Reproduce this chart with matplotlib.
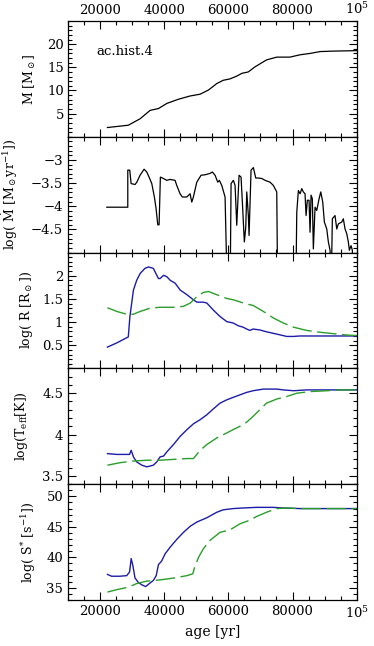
import matplotlib
matplotlib.use('Agg')
import matplotlib.pyplot as plt
from matplotlib.ticker import MultipleLocator, FixedLocator
import numpy as np

plt.rcParams['font.family'] = ['DejaVu Serif']
plt.rcParams['mathtext.fontset'] = 'dejavuserif'

# mass history
mass_age = [22300, 28800, 32500, 35600, 38200, 40800, 44400, 48000, 51200, 53800,
            56400, 58400, 60500, 62600, 64200, 66200, 68300, 71900, 75100, 79200,
            82300, 85500, 88600, 92700, 100000]
mass = [2.0, 2.5, 3.9, 5.7, 6.1, 7.2, 8.1, 8.8, 9.2, 10.1,
        11.5, 12.2, 12.5, 13.1, 13.7, 14.0, 15.1, 16.6, 17.2, 17.2,
        17.7, 18.0, 18.4, 18.5, 18.6]

# accretion rate; -6 = rate below the plotted range
mdot_age = [22090, 28640, 28640, 29260, 29670, 30920, 31450, 32470, 33720, 34560,
            35280, 36120, 36930, 37460, 37990, 38400, 38800, 39740, 40800, 41820,
            43380, 43910, 44940, 45660, 47030, 48060, 48590, 49090, 50150, 51490,
            52730, 54290, 55010, 55850, 56690, 57190, 57940, 58970, 59690, 60530,
            60840, 61560, 62090, 62610, 63330, 63950, 64360, 64980, 65420, 65730,
            66230, 66450, 67070, 67790, 68540, 69350, 70410, 71440, 73000, 74020,
            75080, 75390, 81000, 81320, 81820, 82350, 82880, 83370, 83900, 84220,
            84620, 85150, 85460, 85780, 86180, 86490, 87020, 87550, 88270, 88800,
            89420, 89920, 90670, 91170, 91700, 92010, 92410, 93250, 93790, 94280,
            95350, 95840, 96370, 96900, 97400, 97720, 98240, 98650, 98800]
log_mdot = [-4.02, -4.02, -3.22, -3.22, -3.51, -3.53, -3.48, -3.33, -3.20, -3.26,
            -3.37, -3.51, -3.80, -4.05, -4.40, -4.40, -3.37, -3.40, -3.44, -3.42,
            -3.44, -3.55, -3.73, -3.80, -3.80, -3.73, -3.91, -3.80, -3.48, -3.33,
            -3.32, -3.29, -3.26, -3.33, -3.48, -3.44, -3.55, -3.80, -6.0, -6.0,
            -3.51, -3.44, -3.55, -4.41, -3.33, -3.37, -3.91, -4.77, -4.45, -3.69,
            -4.20, -4.63, -3.22, -3.165, -3.39, -3.39, -3.40, -3.44, -3.48, -3.55,
            -3.69, -6.0, -6.0, -4.13, -3.66, -3.73, -3.62, -3.69, -3.73, -4.20,
            -3.87, -3.87, -4.56, -3.76, -3.84, -4.92, -4.02, -4.09, -3.84, -3.69,
            -3.91, -4.34, -4.49, -4.77, -4.95, -6.0, -4.27, -4.20, -4.49, -4.38,
            -4.34, -4.27, -4.49, -4.59, -4.77, -4.95, -4.85, -4.95, -6.0]

# radius
r_age_blue = [22300, 25200, 28800, 29300, 30400, 31400, 32500, 34000, 35100, 36600,
              38200, 38700, 39800, 40800, 41900, 43400, 45000, 47100, 49100, 50200,
              52200, 53300, 55300, 57400, 59500, 61500, 63100, 64600, 65700, 66700,
              67700, 69800, 71900, 75100, 78200, 80300, 82300, 92700, 100000]
log_r_blue = [0.46, 0.55, 0.68, 1.12, 1.69, 1.9, 2.05, 2.16, 2.19, 2.16,
              1.94, 1.94, 2.01, 1.98, 1.9, 1.84, 1.69, 1.59, 1.48, 1.43,
              1.43, 1.41, 1.26, 1.12, 1.01, 0.98, 0.92, 0.89, 0.85, 0.82,
              0.85, 0.83, 0.79, 0.74, 0.69, 0.69, 0.70, 0.70, 0.70]
r_age_green = [22300, 25200, 28800, 30400, 32500, 35600, 38700, 42900, 46000, 48100,
               50200, 52200, 53800, 56400, 59500, 61600, 65700, 67700, 70900, 74000,
               77100, 80300, 84400, 88600, 92700, 96900, 100000]
log_r_green = [1.31, 1.23, 1.16, 1.17, 1.23, 1.30, 1.32, 1.32, 1.34, 1.41,
               1.55, 1.64, 1.66, 1.59, 1.51, 1.48, 1.39, 1.36, 1.23, 1.09,
               0.98, 0.89, 0.82, 0.78, 0.75, 0.72, 0.71]

# effective temperature
t_age_blue = [22300, 25200, 29200, 29700, 30400, 31400, 33000, 34600, 36600, 37700,
              38700, 39800, 40800, 42900, 45000, 47100, 49100, 51200, 53300, 55300,
              57400, 59500, 61500, 63600, 65700, 67700, 70900, 75100, 77100, 80300,
              84400, 88600, 100000]
log_t_blue = [3.77, 3.76, 3.76, 3.81, 3.73, 3.67, 3.63, 3.61, 3.63, 3.67,
              3.73, 3.74, 3.79, 3.88, 3.98, 4.06, 4.13, 4.18, 4.24, 4.31,
              4.38, 4.42, 4.45, 4.48, 4.51, 4.53, 4.55, 4.55, 4.54, 4.53,
              4.54, 4.54, 4.54]
t_age_green = [22300, 26200, 30400, 34600, 38700, 42900, 47100, 49100, 51200, 53300,
               56400, 59500, 61500, 63600, 65700, 67700, 69800, 71900, 75100, 78200,
               81300, 85500, 90700, 94800, 100000]
log_t_green = [3.63, 3.66, 3.68, 3.69, 3.69, 3.70, 3.71, 3.71, 3.81, 3.88,
               3.96, 4.02, 4.06, 4.10, 4.15, 4.22, 4.30, 4.38, 4.43, 4.46,
               4.50, 4.52, 4.53, 4.54, 4.54]

# ionizing photon rate
s_age_blue = [22300, 23600, 26200, 28300, 29200, 29700, 30200, 30900, 31900, 33000,
              34200, 35600, 36600, 37500, 38200, 39200, 40300, 41900, 44000, 46000,
              48100, 50200, 53300, 56400, 58400, 61500, 64600, 68800, 74000, 77100,
              82300, 100000]
log_s_blue = [37.2, 36.9, 36.9, 37.0, 37.6, 39.8, 38.7, 36.6, 35.9, 35.5,
              35.2, 35.8, 36.2, 37.0, 38.8, 39.4, 40.6, 41.7, 43.0, 44.1,
              45.1, 45.8, 46.5, 47.4, 47.8, 48.0, 48.1, 48.2, 48.2, 48.1,
              48.0, 48.0]
s_age_green = [22300, 25200, 28800, 31400, 34600, 38700, 42900, 47100, 48900, 49500,
               50700, 52200, 54300, 57400, 60500, 63600, 66700, 68800, 71900, 75100,
               78200, 82300, 100000]
log_s_green = [34.3, 34.7, 35.1, 35.7, 36.1, 36.3, 36.6, 37.0, 37.3, 38.4,
               40.0, 41.4, 42.8, 44.1, 44.5, 45.5, 46.1, 46.7, 47.4, 48.0,
               48.1, 48.0, 48.0]

blue = '#1c1ca8'
green = '#2a9e2a'
dash = (14, 4)

fig = plt.figure(figsize=(3.74, 6.46), dpi=100)
left, right = 0.1818, 0.9537
bottom, top = 0.0712, 0.9675
h = (top - bottom) / 5
axes = [fig.add_axes([left, top - (i + 1) * h, right - left, h]) for i in range(5)]

ylims = [(0, 25), (-5, -2.5), (0, 2.5), (3.4, 4.8), (33, 52)]
majors = [[5, 10, 15, 20], [-4.5, -4, -3.5, -3], [0.5, 1, 1.5, 2],
          [3.5, 4, 4.5], [35, 40, 45, 50]]
major_lbl = [['5', '10', '15', '20'], ['\u22124.5', '\u22124', '\u22123.5', '\u22123'],
             ['0.5', '1', '1.5', '2'], ['3.5', '4', '4.5'], ['35', '40', '45', '50']]
minors = [1, 0.1, 0.1, 0.1, 1]
ylabels = [r'M [M$_\odot$]',
           r'log( $\dot{\rm M}$ [M$_\odot$yr$^{-1}$])',
           r'log( R [R$_\odot$])',
           r'log(T$_{\rm eff}$[K])',
           r'log( S$^{*}$ [s$^{-1}$])']
label_x = [-0.105, -0.165, -0.115, -0.13, -0.105]

xticks = [20000, 40000, 60000, 80000, 100000]
xtick_lbl = ['20000', '40000', '60000', '80000', r'$10^5$']

for i, ax in enumerate(axes):
    ax.set_xlim(10000, 100000)
    ax.set_ylim(*ylims[i])
    ax.xaxis.set_major_locator(FixedLocator(xticks))
    ax.xaxis.set_minor_locator(MultipleLocator(5000))
    ax.yaxis.set_major_locator(FixedLocator(majors[i]))
    ax.yaxis.set_minor_locator(MultipleLocator(minors[i]))
    ax.set_yticklabels(major_lbl[i])
    ax.tick_params(which='both', direction='in', top=True, right=True,
                   labelsize=9.5, width=0.8, colors='black')
    ax.tick_params(which='major', length=6)
    ax.tick_params(which='minor', length=3.2)
    if i == 0:
        ax.tick_params(labeltop=True, labelbottom=False, pad=3)
        ax.set_xticklabels(xtick_lbl)
    elif i == 4:
        ax.set_xticklabels(xtick_lbl)
        ax.set_xlabel('age [yr]', fontsize=10, labelpad=3)
    else:
        ax.tick_params(labelbottom=False)
    ax.set_ylabel(ylabels[i], fontsize=9)
    ax.yaxis.set_label_coords(label_x[i], 0.5)
    for s in ax.spines.values():
        s.set_linewidth(0.9)

axes[0].plot(mass_age, mass, color='black', lw=0.9)
axes[0].text(19000, 18.4, 'ac.hist.4', fontsize=9.5, ha='left', va='center')

axes[1].plot(mdot_age, log_mdot, color='black', lw=0.9)

axes[2].plot(r_age_blue, log_r_blue, color=blue, lw=1.0)
axes[2].plot(r_age_green, log_r_green, color=green, lw=1.0, dashes=dash)

axes[3].plot(t_age_blue, log_t_blue, color=blue, lw=1.0)
axes[3].plot(t_age_green, log_t_green, color=green, lw=1.0, dashes=dash)

axes[4].plot(s_age_blue, log_s_blue, color=blue, lw=1.0)
axes[4].plot(s_age_green, log_s_green, color=green, lw=1.0, dashes=dash)

fig.savefig('out.png', dpi=100, facecolor='white')
